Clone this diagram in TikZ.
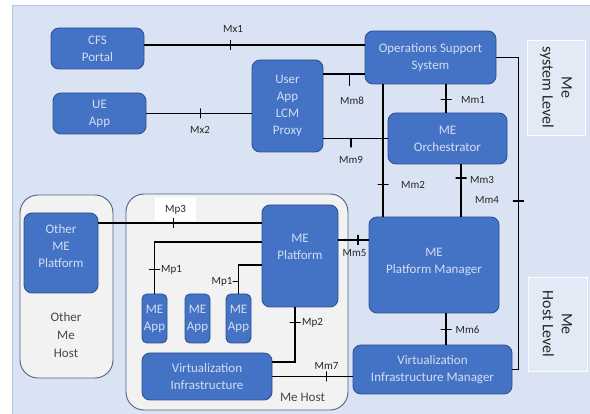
\documentclass[tikz,border=0pt]{standalone}
\usepackage{fontspec}
\setmainfont{Carlito}
\usetikzlibrary{positioning}
\definecolor{cbg}{HTML}{DAE3F3}
\definecolor{cbgedge}{HTML}{B4C7E7}
\definecolor{cnode}{HTML}{4472C4}
\definecolor{cnodeedge}{HTML}{2F528F}
\definecolor{cnodetext}{HTML}{D3DEF2}
\definecolor{chost}{HTML}{F2F2F2}
\definecolor{chostedge}{HTML}{4E6282}
\definecolor{clevel}{HTML}{E4EAF5}
\definecolor{clabel}{HTML}{262626}
\tikzset{
  every picture/.style={line width=1.1pt},
  blk/.style={draw=cnodeedge, line width=0.9pt, fill=cnode, rounded corners=8pt, text=cnodetext, align=center, inner sep=1pt, font=\fontsize{13}{17}\selectfont},
  host/.style={draw=chostedge, line width=0.9pt, fill=chost, rounded corners=18pt},
  lvlbox/.style={draw=white!90!cbg, line width=0.8pt, fill=clevel, align=center, text=clabel, font=\fontsize{16}{19}\selectfont},
  conn/.style={draw=black, line width=1.1pt},
  tickv/.style={draw=black, line width=1.1pt, inner sep=0pt, outer sep=0pt, minimum width=0pt, minimum height=10pt},
  tickd/.style={tickv, anchor=north, minimum height=12pt},
  tickh/.style={draw=black, line width=1.1pt, inner sep=0pt, outer sep=0pt, minimum height=0pt, minimum width=11pt},
  tickl/.style={tickh, anchor=east, minimum width=6pt},
  lbl/.style={text=clabel, inner sep=1pt, font=\fontsize{11}{13}\selectfont},
  txt/.style={text=clabel!85!white, align=center, font=\fontsize{13}{18}\selectfont},
}
\begin{document}
\begin{tikzpicture}[x=1pt, y=-1pt]
  \useasboundingbox (0,0) rectangle (590,414);
  \fill[cbg] (12,6) rectangle (590,414);
  \draw[cbgedge, line width=1pt] (12,414) -- (12,6) -- (590,6);

  \node[lvlbox, rotate=-90, minimum width=95pt, minimum height=58pt] (syslvl) at (556,87.5) {Me\\system Level};
  \node[lvlbox, rotate=-90, minimum width=94pt, minimum height=59pt] (hostlvl) at (557.5,324) {Me\\Host Level};

  \node[host, minimum width=93pt, minimum height=183pt] (othost) at (66.5,286.5) {};
  \node[host, minimum width=222pt, minimum height=216pt] (mehost) at (237,302) {};
  \node[txt] (othostlbl) at (66,335) {Other\\Me\\Host};
  \node[txt] (mehostlbl) at (302.5,397) {Me Host};

  \node[blk, minimum width=93pt, minimum height=41pt] (cfs) at (97.5,48.5) {CFS\\Portal};
  \node[blk, minimum width=93pt, minimum height=41pt] (ueapp) at (99.5,113.5) {UE\\App};
  \node[blk, minimum width=71pt, minimum height=92pt] (lcm) at (287.5,106) {User\\App\\LCM\\Proxy};
  \node[blk, minimum width=131pt, minimum height=53pt] (oss) at (430.5,57.5) {Operations Support\\System};
  \node[blk, minimum width=119pt, minimum height=51pt] (meo) at (447.5,138.5) {ME\\Orchestrator};
  \node[blk, minimum width=130pt, minimum height=96pt, text depth=8pt] (mepm) at (434,265) {ME\\Platform Manager};
  \node[blk, minimum width=159pt, minimum height=49pt] (vim) at (432.5,369.5) {Virtualization\\Infrastructure Manager};
  \node[blk, minimum width=74pt, minimum height=80pt, text depth=14pt] (othmep) at (61,253) {Other\\ME\\Platform};
  \node[blk, minimum width=76pt, minimum height=102pt, text depth=18pt] (mep) at (300,256) {ME\\Platform};
  \node[blk, minimum width=25pt, minimum height=49pt, rounded corners=5pt] (app1) at (154.5,318.5) {ME\\App};
  \node[blk, minimum width=25pt, minimum height=49pt, rounded corners=5pt] (app2) at (197.5,318.5) {ME\\App};
  \node[blk, minimum width=25pt, minimum height=49pt, rounded corners=5pt] (app3) at (238.5,318.5) {ME\\App};
  \node[blk, minimum width=130pt, minimum height=47pt] (vi) at (207,376.5) {Virtualization\\Infrastructure};

  \node[lbl, fill=white, minimum width=41pt, minimum height=24pt] (lmp3) at (175.5,209.5) {Mp3};

  \draw[conn] ([yshift=3.5pt]cfs.east) -- node[tickv, pos=.39] {} ([yshift=12.5pt]oss.west);
  \draw[conn] (ueapp.east) -- node[tickv, pos=.51] {} (ueapp.east -| lcm.west);
  \draw[conn] ([yshift=32pt]lcm.east) -- node[tickd, pos=.64] {} ([yshift=32pt]lcm.east -| oss.west);
  \draw[conn] (meo.west -| lcm.east) -- node[tickd, pos=.43, minimum height=9pt] {} (meo.west);
  \draw[conn] ([xshift=-47.5pt]oss.south) -- node[tickh, pos=.76] {} ([xshift=-47.5pt]oss.south |- mepm.north);
  \draw[conn] ([xshift=15.5pt]oss.south) -- node[tickh, pos=.55] {} ([xshift=15.5pt]oss.south |- meo.north);
  \draw[conn] ([xshift=13.5pt]meo.south) -- node[tickh, pos=.26] {} ([xshift=13.5pt]meo.south |- mepm.north);
  \draw[conn] (oss.east) -- ++(22,0) |- node[tickh, pos=.23] {} (vim.east);
  \draw[conn] ([yshift=16pt]mep.east) -- node[tickv, pos=.65] {} ([yshift=16pt]mep.east -| mepm.west);
  \draw[conn] ([xshift=12pt]mepm.south) -- node[tickh, pos=.53] {} ([xshift=12pt]mepm.south |- vim.north);
  \draw[conn] (vi.east) -- node[tickv, pos=.68] {} (vi.east -| vim.west);
  \draw[conn] ([xshift=-5pt]mep.south) |- node[tickh, pos=.14] {} ([yshift=14.5pt]vi.east);
  \draw[conn] ([yshift=30pt]othmep.east) -- node[tickv, pos=.46] {} ([yshift=30pt]othmep.east -| mep.west);
  \draw[conn] (app1.north) |- node[tickh, pos=.23] {} ([yshift=14pt]mep.west);
  \draw[conn] (app3.north) |- node[tickl, pos=.21] {} ([yshift=-9pt]mep.west);

  \node[lbl] (lmx1) at (233,29) {Mx1};
  \node[lbl] (lmx2) at (200,130) {Mx2};
  \node[lbl] (lmm8) at (352,101) {Mm8};
  \node[lbl] (lmm9) at (351,160) {Mm9};
  \node[lbl] (lmm2) at (413,185) {Mm2};
  \node[lbl] (lmm1) at (473,100) {Mm1};
  \node[lbl] (lmm3) at (482,180) {Mm3};
  \node[lbl] (lmm4) at (487,200) {Mm4};
  \node[lbl] (lmm5) at (354.5,253) {Mm5};
  \node[lbl] (lmm6) at (467.5,330) {Mm6};
  \node[lbl] (lmm7) at (326.5,366) {Mm7};
  \node[lbl] (lmp2) at (312.5,323) {Mp2};
  \node[lbl] (lmp1a) at (171.5,270) {Mp1};
  \node[lbl] (lmp1b) at (222,282) {Mp1};
\end{tikzpicture}
\end{document}
